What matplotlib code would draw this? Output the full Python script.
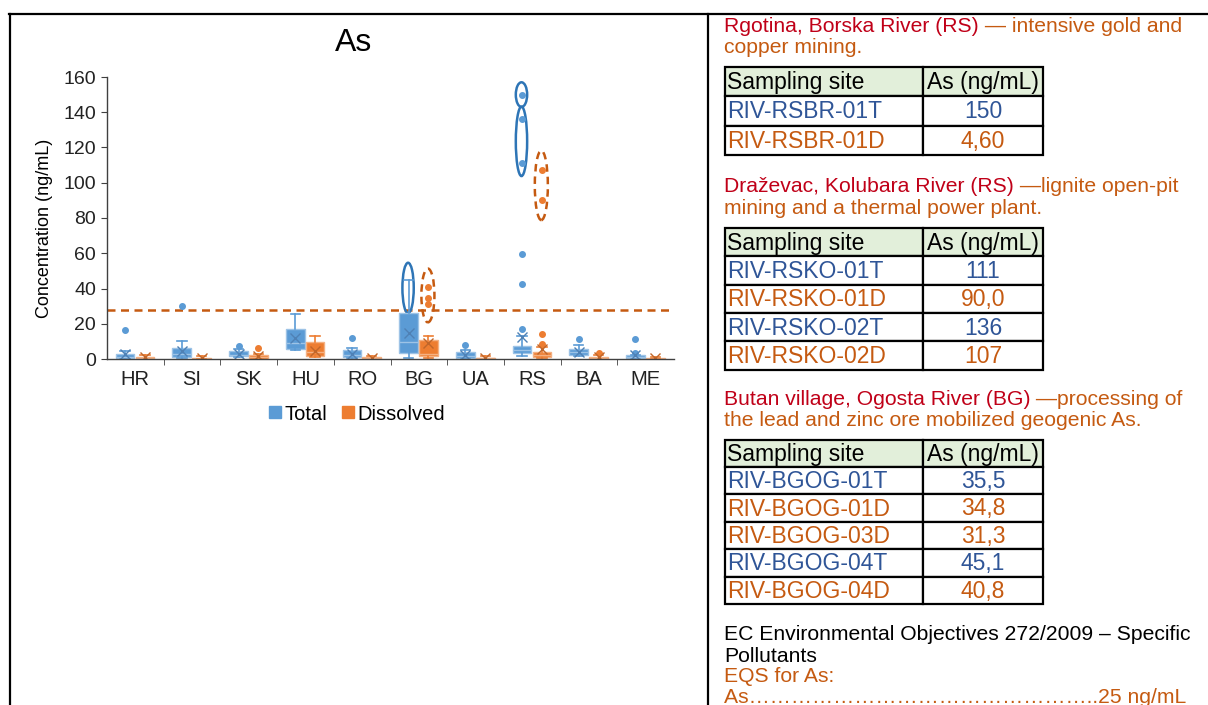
import matplotlib
matplotlib.use('Agg')
import matplotlib.pyplot as plt
from matplotlib.patches import Ellipse, Rectangle
from matplotlib.lines import Line2D

plt.rcParams['font.family'] = ['Liberation Sans', 'DejaVu Sans']

# ---------------- Datos del gráfico ----------------
paises = ['HR', 'SI', 'SK', 'HU', 'RO', 'BG', 'UA', 'RS', 'BA', 'ME']

# Total
tot_q1 = [0.3, 1.2, 1.5, 5.8, 1.3, 3.6, 0.8, 3.4, 2.5, 0.3]
tot_med = [1.0, 3.0, 2.5, 9.2, 2.5, 9.4, 1.5, 5.0, 4.0, 1.0]
tot_q3 = [2.8, 6.0, 4.3, 16.8, 5.0, 26.2, 3.8, 7.4, 5.5, 2.0]
tot_wlo = [0.0, 0.3, 1.0, 5.0, 0.5, 0.8, 0.3, 1.5, 1.5, 0.2]
tot_whi = [4.5, 10.0, 5.5, 25.4, 6.0, 45.1, 5.0, 13.0, 8.0, 2.5]
tot_media = [3.0, 4.5, 3.0, 11.7, 3.0, 14.9, 2.5, 12.6, 4.2, 2.0]
tot_atip = [[16.2], [30.0], [7.5], [], [12.0], [], [7.9],
            [17.1, 42.3, 59.7, 111, 136, 150], [11.1], [3.6, 11.1]]

# Disuelto
dis_q1 = [0.0, 0.0, 0.2, 1.7, 0.0, 1.5, 0.0, 1.3, 0.0, 0.0]
dis_med = [0.5, 0.2, 1.0, 4.0, 0.3, 3.0, 0.3, 2.5, 0.5, 0.2]
dis_q3 = [1.3, 0.5, 2.0, 9.6, 1.0, 10.8, 0.8, 4.1, 1.2, 0.4]
dis_wlo = [0.0, 0.0, 0.0, 1.0, 0.0, 0.5, 0.0, 0.3, 0.0, 0.0]
dis_whi = [2.0, 1.5, 3.0, 13.0, 1.5, 12.8, 1.5, 6.6, 2.0, 1.0]
dis_media = [1.0, 0.8, 1.5, 4.7, 0.8, 9.3, 0.8, 5.5, 1.0, 0.5]
dis_atip = [[], [], [6.4], [], [], [31.3, 34.8, 40.8], [],
            [8.5, 14.3, 90.0, 107], [3.2], []]

nivel_eqs = 27.7  # línea punteada naranja

# Grupos resaltados con elipses
elipse_pais = ['BG', 'BG', 'RS', 'RS', 'RS']
elipse_serie = ['Total', 'Dissolved', 'Total', 'Total', 'Dissolved']
elipse_valores = [[35.5, 45.1], [31.3, 34.8, 40.8], [150], [111, 136], [90.0, 107]]
elipse_margen = [9.5, 10.5, 7.0, 7.2, 11.2]

# Tablas del panel derecho
sitios_rsbr = ['RIV-RSBR-01T', 'RIV-RSBR-01D']
valores_rsbr = ['150', '4,60']
sitios_rsko = ['RIV-RSKO-01T', 'RIV-RSKO-01D', 'RIV-RSKO-02T', 'RIV-RSKO-02D']
valores_rsko = ['111', '90,0', '136', '107']
sitios_bgog = ['RIV-BGOG-01T', 'RIV-BGOG-01D', 'RIV-BGOG-03D', 'RIV-BGOG-04T', 'RIV-BGOG-04D']
valores_bgog = ['35,5', '34,8', '31,3', '45,1', '40,8']

# ---------------- Colores ----------------
azul = '#5B9BD5'
naranja = '#ED7D31'
rojo_txt = '#C00018'
naranja_txt = '#C55A11'
azul_txt = '#2F5597'
fs_txt = 15.2


def armar_stats(q1, med, q3, wlo, whi, media, atip):
    stats = []
    for i in range(len(q1)):
        stats.append(dict(q1=q1[i], med=med[i], q3=q3[i], whislo=wlo[i],
                          whishi=whi[i], mean=media[i], fliers=atip[i]))
    return stats


def dibujar_cajas(ax, stats, pos, color, borde, oscuro):
    ax.bxp(stats, positions=pos, widths=0.33, patch_artist=True, showmeans=True,
           manage_ticks=False,
           boxprops=dict(facecolor=color, edgecolor=borde, linewidth=1),
           medianprops=dict(color=borde, linewidth=1),
           whiskerprops=dict(color=color, linewidth=1.2),
           capprops=dict(color=color, linewidth=1.2),
           meanprops=dict(marker='x', markeredgecolor=oscuro, markersize=7,
                          markeredgewidth=1),
           flierprops=dict(marker='o', markerfacecolor=color, markeredgecolor=color,
                           markersize=4))


def dibujar_tabla(ax, x0, y0, alto, sitios, valores):
    anchos = [198, 120]
    filas = [('Sampling site', 'As (ng/mL)')] + list(zip(sitios, valores))
    for k, (s, v) in enumerate(filas):
        y = y0 + k * alto
        fondo = '#E2EFDA' if k == 0 else 'white'
        if k == 0:
            color = 'black'
        else:
            color = azul_txt if s.endswith('T') else naranja_txt
        ax.add_patch(Rectangle((x0, y), anchos[0], alto, facecolor=fondo,
                               edgecolor='black', lw=1.6))
        ax.add_patch(Rectangle((x0 + anchos[0], y), anchos[1], alto, facecolor=fondo,
                               edgecolor='black', lw=1.6))
        ax.text(x0 + 2, y + alto / 2 + 1, s, color=color, fontsize=16.5,
                ha='left', va='center')
        ax.text(x0 + anchos[0] + anchos[1] / 2, y + alto / 2 + 1, v, color=color,
                fontsize=16.5, ha='center', va='center')


def texto_dos_colores(ax, x, y, parte_roja, parte_naranja):
    t = ax.text(x, y, parte_roja, color=rojo_txt, fontsize=fs_txt, ha='left', va='baseline')
    ax.annotate(parte_naranja, xy=(1, 0), xycoords=t, color=naranja_txt, fontsize=fs_txt,
                ha='left', va='bottom')


fig = plt.figure(figsize=(12.08, 7.05), dpi=100)

# 1) Capa en píxeles para marco, textos y tablas
tax = fig.add_axes([0, 0, 1, 1])
tax.set_xlim(0, 1208)
tax.set_ylim(705, 0)
tax.axis('off')

tax.add_line(Line2D([9, 1208], [13.5, 13.5], color='black', lw=1.6))
tax.add_line(Line2D([9.5, 9.5], [13.5, 705], color='black', lw=1.6))
tax.add_line(Line2D([707.5, 707.5], [13.5, 705], color='black', lw=1.6))

texto_dos_colores(tax, 724, 31.5, 'Rgotina, Borska River (RS)', ' — intensive gold and')
tax.text(724, 53, 'copper mining.', color=naranja_txt, fontsize=fs_txt, va='baseline')
dibujar_tabla(tax, 725, 66.5, 29.5, sitios_rsbr, valores_rsbr)

texto_dos_colores(tax, 724, 192.5, 'Draževac, Kolubara River (RS)', ' —lignite open-pit')
tax.text(724, 213.5, 'mining and a thermal power plant.', color=naranja_txt,
         fontsize=fs_txt, va='baseline')
dibujar_tabla(tax, 725, 228, 28.3, sitios_rsko, valores_rsko)

texto_dos_colores(tax, 724, 405, 'Butan village, Ogosta River (BG)', ' —processing of')
tax.text(724, 425.5, 'the lead and zinc ore mobilized geogenic As.', color=naranja_txt,
         fontsize=fs_txt, va='baseline')
dibujar_tabla(tax, 725, 439.5, 27.4, sitios_bgog, valores_bgog)

tax.text(724, 640, 'EC Environmental Objectives 272/2009 – Specific', color='black',
         fontsize=fs_txt, va='baseline')
tax.text(724, 661.5, 'Pollutants', color='black', fontsize=fs_txt, va='baseline')
tax.text(724, 681.5, 'EQS for As:', color=naranja_txt, fontsize=fs_txt, va='baseline')
tax.text(724, 703, 'As' + '…' * 16 + '..25 ng/mL', color=naranja_txt, fontsize=fs_txt,
         va='baseline')

# 2) Gráfico de cajas
ax = fig.add_axes([107 / 1208, (705 - 359) / 705, 567 / 1208, 282 / 705])
pos = list(range(len(paises)))
dibujar_cajas(ax, armar_stats(tot_q1, tot_med, tot_q3, tot_wlo, tot_whi, tot_media, tot_atip),
              [p - 0.18 for p in pos], azul, '#9DC3E6', '#4F81B5')
dibujar_cajas(ax, armar_stats(dis_q1, dis_med, dis_q3, dis_wlo, dis_whi, dis_media, dis_atip),
              [p + 0.17 for p in pos], naranja, '#F4B183', '#C0662A')

ax.axhline(nivel_eqs, color='#C55A11', lw=1.8, linestyle=(0, (3.2, 2.2)), zorder=1)

# 3) Elipses de resaltado
for pais, serie, vals, margen in zip(elipse_pais, elipse_serie, elipse_valores, elipse_margen):
    i = paises.index(pais)
    cy = (min(vals) + max(vals)) / 2
    alto = max(vals) - min(vals) + 2 * margen
    if serie == 'Total':
        e = Ellipse((i - 0.19, cy), 0.2, alto, fill=False, edgecolor='#2E75B6', lw=1.8)
    else:
        e = Ellipse((i + 0.16, cy), 0.23, alto, fill=False, edgecolor='#C55A11', lw=1.8,
                    linestyle=(0, (3, 2)))
    ax.add_patch(e)

ax.set_xlim(-0.5, len(paises) - 0.5)
ax.set_ylim(0, 160)
ax.set_yticks(range(0, 161, 20))
ax.set_xticks(pos)
ax.set_xticklabels(paises)
ax.set_xticks([p + 0.5 for p in pos[:-1]], minor=True)
ax.tick_params(axis='x', which='major', length=0, pad=8, labelsize=14.5, colors='#222222')
ax.tick_params(axis='x', which='minor', length=4, color='#404040')
ax.tick_params(axis='y', length=4, pad=4, labelsize=14, colors='#222222', color='#404040')
for lado in ['top', 'right']:
    ax.spines[lado].set_visible(False)
for lado in ['left', 'bottom']:
    ax.spines[lado].set_color('#404040')
    ax.spines[lado].set_linewidth(1)
ax.patch.set_alpha(0)

fig.text(354 / 1208, (705 - 43) / 705, 'As', fontsize=23, ha='center', va='center')
fig.text(45 / 1208, (705 - 228) / 705, 'Concentration (ng/mL)', fontsize=13,
         rotation=90, ha='center', va='center')

# 4) Leyenda
manijas = [Line2D([], [], marker='s', linestyle='', color=azul, markersize=8),
           Line2D([], [], marker='s', linestyle='', color=naranja, markersize=8)]
fig.legend(manijas, ['Total', 'Dissolved'], loc='center', ncol=2, frameon=False,
           bbox_to_anchor=(356 / 1208, (705 - 414) / 705), fontsize=14.5,
           handletextpad=0.1, columnspacing=0.6, handlelength=0.8)

plt.savefig('out.png', dpi=100)
